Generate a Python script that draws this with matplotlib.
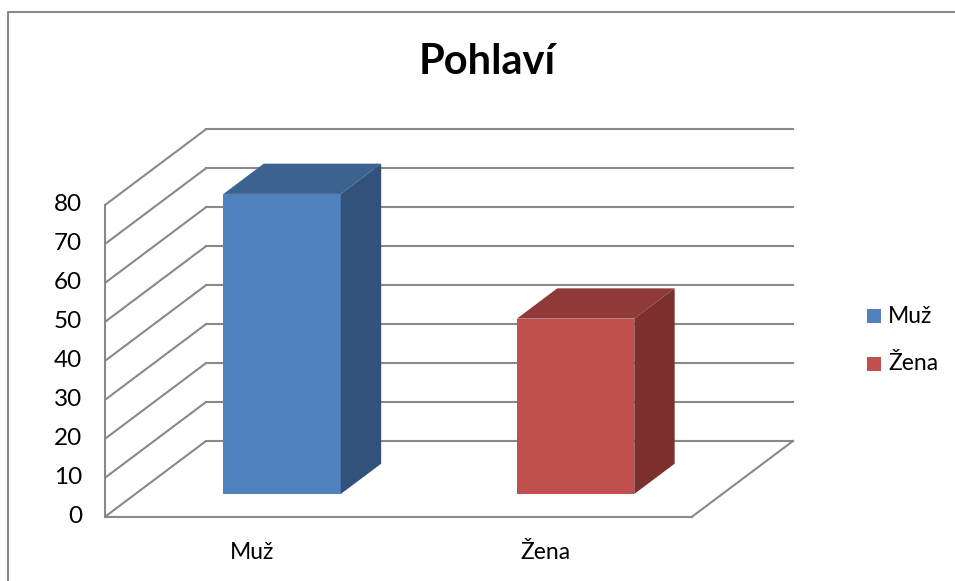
import matplotlib.pyplot as plt
from matplotlib.patches import Polygon, Rectangle
from matplotlib.lines import Line2D

plt.rcParams['font.family'] = ['Lato', 'DejaVu Sans']

# data
categories = ['Muž', 'Žena']
values = [77, 45]
front_colors = ['#4F81BD', '#C0504D']
top_colors = ['#3C6390', '#8F3A38']
side_colors = ['#32527B', '#7B302E']
yticks = [0, 10, 20, 30, 40, 50, 60, 70, 80]
title = 'Pohlaví'

# oblique "3d" projection: depth shift in data units
dx, dy = 0.344, 19.43
bar_w = 0.4
d0, d1 = 0.3, 0.7
grid_col = '#898989'

fig = plt.figure(figsize=(9.55, 5.81), dpi=100)
ax = fig.add_axes([0, 0, 1, 1])
ax.set_xlim(-0.858, 2.396)
ax.set_ylim(-16.5, 132.6)
ax.axis('off')

x0 = -0.5
x1 = len(categories) - 0.5
top = yticks[-1]

# side wall + back wall gridlines
for v in yticks:
    ax.plot([x0, x0 + dx], [v, v + dy], color=grid_col, lw=1.5, solid_capstyle='butt')
    ax.plot([x0 + dx, x1 + dx], [v + dy, v + dy], color=grid_col, lw=1.5)
# front axis and floor
ax.plot([x0, x0], [0, top], color=grid_col, lw=1.5)
ax.plot([x0, x1], [0, 0], color=grid_col, lw=1.5)
ax.plot([x1, x1 + dx], [0, dy], color=grid_col, lw=1.5)

# tick labels
for v in yticks:
    ax.annotate(str(v), (x0, v), xytext=(-23, 0), textcoords='offset pixels',
                ha='right', va='center', fontsize=17.5, color='black')

# bars
for i, (c, v) in enumerate(zip(categories, values)):
    xl = i - bar_w / 2
    xr = i + bar_w / 2
    front = Rectangle((xl + d0 * dx, d0 * dy), bar_w, v, facecolor=front_colors[i],
                      edgecolor='none', zorder=3)
    tp = Polygon([(xl + d0 * dx, v + d0 * dy), (xr + d0 * dx, v + d0 * dy),
                  (xr + d1 * dx, v + d1 * dy), (xl + d1 * dx, v + d1 * dy)],
                 closed=True, facecolor=top_colors[i], edgecolor='none', zorder=3)
    sd = Polygon([(xr + d0 * dx, d0 * dy), (xr + d1 * dx, d1 * dy),
                  (xr + d1 * dx, v + d1 * dy), (xr + d0 * dx, v + d0 * dy)],
                 closed=True, facecolor=side_colors[i], edgecolor='none', zorder=3)
    ax.add_patch(front)
    ax.add_patch(tp)
    ax.add_patch(sd)
    ax.annotate(c, (i, 0), xytext=(0, -36), textcoords='offset pixels',
                ha='center', va='center', fontsize=16.5, color='black')

# title
fig.text(0.51, 1 - 62 / 581, title, ha='center', va='center', fontsize=30,
         fontweight='bold')

# legend
W, H = 955.0, 581.0
for i, c in enumerate(categories):
    yc = 316 + i * 48
    fig.add_artist(Rectangle((867 / W, 1 - (yc + 7) / H), 14 / W, 14 / H,
                             transform=fig.transFigure, facecolor=front_colors[i],
                             edgecolor='none'))
    fig.text(888 / W, 1 - yc / H, c, ha='left', va='center', fontsize=16.5)

# chart border (cropped at right and bottom)
fig.add_artist(Line2D([8 / W, 8 / W, 1.0], [0.0, 1 - 12 / H, 1 - 12 / H],
                      transform=fig.transFigure, color=grid_col, lw=1.5))

fig.savefig('out.png', dpi=100)
